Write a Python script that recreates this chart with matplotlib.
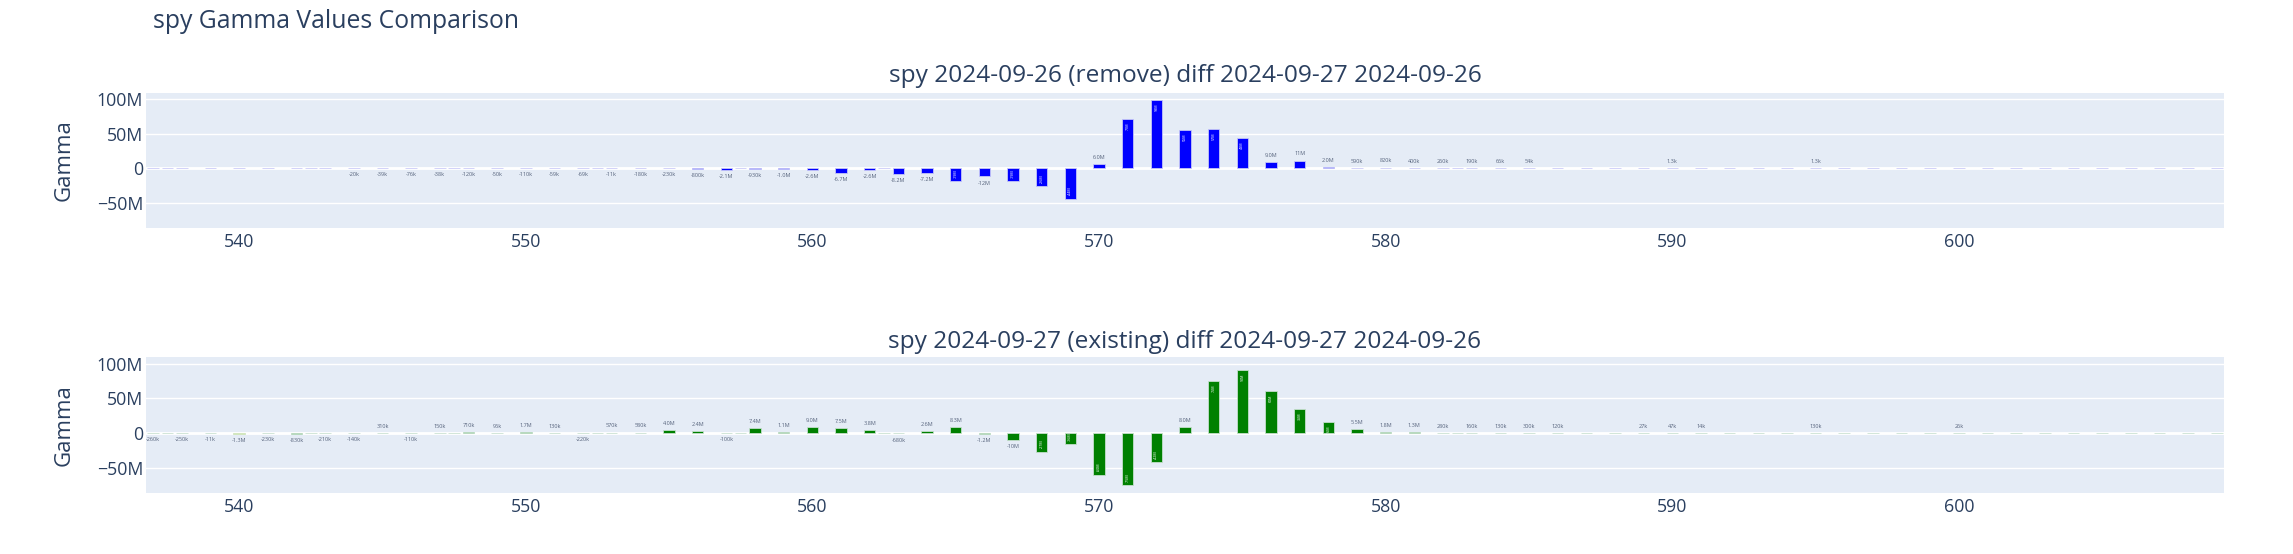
import matplotlib
matplotlib.use("Agg")
import matplotlib.pyplot as plt

# ---------------- data ----------------
strikes = [537, 537.5, 538, 539, 540, 541, 542, 542.5, 543,
           544, 545, 546, 547, 547.5, 548, 549, 550, 551, 552, 552.5,
           553, 554, 555, 556, 557, 557.5, 558, 559, 560, 561, 562, 562.5,
           563, 564, 565, 566, 567, 568, 569, 570, 571, 572, 573, 574, 575,
           576, 577, 578, 579, 580, 581, 582, 582.5,
           583, 584, 585, 586, 587, 588, 589, 590, 591, 592, 593, 594, 595,
           596, 597, 598, 599, 600, 601, 602, 603, 604, 605, 606, 607, 608, 609]

remove_gamma = [0, 0, 0, 0, 0, 0, 0, 0, 0,
                -20e3, -39e3, -76e3, -38e3, 0, -120e3, -50e3, -110e3, -59e3, -69e3, 0,
                -11e3, -180e3, -230e3, -800e3, -2.1e6, 0, -930e3, -1.0e6, -2.6e6, -6.7e6, -2.6e6, 0,
                -8.2e6, -7.2e6, -19e6, -12e6, -19e6, -26e6, -44e6, 6.0e6, 71e6, 98e6, 55e6, 57e6, 43e6,
                9.0e6, 11e6, 2.0e6, 590e3, 820e3, 400e3, 260e3, 0,
                190e3, 66e3, 54e3, 0, 0, 0, 0, 1.3e3, 0, 0, 0, 0, 1.3e3,
                0, 0, 0, 0, 0, 0, 0, 0, 0, 0, 0, 0, 0, 0]

existing_gamma = [-260e3, 0, -250e3, -11e3, -1.3e6, -230e3, -830e3, 0, -210e3,
                  -140e3, 310e3, -110e3, 150e3, 0, 710e3, 95e3, 1.7e6, 130e3, -220e3, 0,
                  570e3, 580e3, 4.0e6, 2.4e6, -100e3, 0, 7.4e6, 1.1e6, 9.0e6, 7.5e6, 3.8e6, 0,
                  -680e3, 2.6e6, 8.3e6, -1.2e6, -10e6, -27e6, -16e6, -60e6, -75e6, -42e6, 8.0e6, 75e6, 90e6,
                  60e6, 35e6, 16e6, 5.5e6, 1.8e6, 1.3e6, 280e3, 0,
                  160e3, 130e3, 300e3, 120e3, 0, 0, 27e3, 47e3, 14e3, 0, 0, 0, 130e3,
                  0, 0, 0, 0, 26e3, 0, 0, 0, 0, 0, 0, 0, 0, 0]

highlight_strike = 540

main_title = "spy Gamma Values Comparison"
sub_titles = ["spy 2024-09-26 (remove) diff 2024-09-27 2024-09-26",
              "spy 2024-09-27 (existing) diff 2024-09-27 2024-09-26"]
y_title = "Gamma"
x_ticks = [540, 550, 560, 570, 580, 590, 600]
y_ticks = [-50e6, 0, 50e6, 100e6]
y_tick_labels = ["\u221250M", "0", "50M", "100M"]

# ---------------- style ----------------
W, H, DPI = 2293, 554, 100
plt.rcParams["font.family"] = ["Open Sans", "DejaVu Sans"]
TXT = "#2a3f5f"
BG = "#E5ECF6"


def pt(pxv):
    return pxv * 72.0 / DPI


def si2(v):
    a = abs(v)
    for div, suf in ((1e9, "G"), (1e6, "M"), (1e3, "k"), (1, "")):
        if a >= div:
            m = a / div
            s = f"{m:.1f}" if m < 10 else f"{m:.0f}"
            return ("-" if v < 0 else "") + s + suf
    return f"{v:.1f}"


fig = plt.figure(figsize=(W / DPI, H / DPI), dpi=DPI)
fig.patch.set_facecolor("white")

left = 146 / W
width = (2224 - 146) / W
panels = [
    dict(vals=remove_gamma, color="#0000ff", edge="#c8c8f8", top=92.7, bot=227.7, title_y=76, hl=None),
    dict(vals=existing_gamma, color="#008000", edge="#c8e0d0", top=357.3, bot=492.7, title_y=342,
         hl=highlight_strike),
]

for i, p in enumerate(panels):
    ax = fig.add_axes([left, 1 - p["bot"] / H, width, (p["bot"] - p["top"]) / H])
    ax.set_facecolor(BG)
    for s in ax.spines.values():
        s.set_visible(False)
    ax.set_xlim(536.75, 609.25)
    ax.set_ylim(-86e6, 109e6)

    for yt in y_ticks:
        if yt == 0:
            ax.axhline(0, color="white", lw=pt(2.8), zorder=1.5)
        else:
            ax.axhline(yt, color="white", lw=pt(1.4), zorder=1)

    colors = [("#ffff00" if (p["hl"] is not None and s == p["hl"]) else p["color"]) for s in strikes]
    ax.bar(strikes, p["vals"], width=0.4, color=colors, edgecolor=p["edge"],
           linewidth=pt(0.8), zorder=3)

    for s, v in zip(strikes, p["vals"]):
        if v == 0:
            continue
        lbl = si2(v)
        if abs(v) >= 13e6:
            ax.annotate(lbl, (s, v), xytext=(0, -2.5 if v > 0 else 2.5),
                        textcoords="offset points", rotation=90,
                        ha="center", va="top" if v > 0 else "bottom",
                        color="white", fontsize=2.6, zorder=5)
        else:
            ax.annotate(lbl, (s, v), xytext=(0, 3 if v > 0 else -3),
                        textcoords="offset points",
                        ha="center", va="bottom" if v > 0 else "top",
                        color="#56637c", fontsize=4.0, zorder=5)

    ax.set_xticks(x_ticks)
    ax.set_xticklabels([str(t) for t in x_ticks])
    ax.set_yticks(y_ticks)
    ax.set_yticklabels(y_tick_labels)
    ax.tick_params(axis="both", length=0, colors=TXT, labelsize=12.8)
    ax.tick_params(axis="x", pad=3.5)
    ax.tick_params(axis="y", pad=2)

    fig.text(1185 / W, 1 - p["title_y"] / H, sub_titles[i], ha="center", va="center",
             fontsize=17.6, color=TXT)
    fig.text(64 / W, 1 - (p["top"] + p["bot"]) / 2 / H, y_title, rotation=90,
             ha="center", va="center", fontsize=16, color=TXT)

fig.text(153 / W, 1 - 21 / H, main_title, ha="left", va="center", fontsize=17.8, color=TXT)

fig.savefig("out.png", dpi=DPI, facecolor="white")
